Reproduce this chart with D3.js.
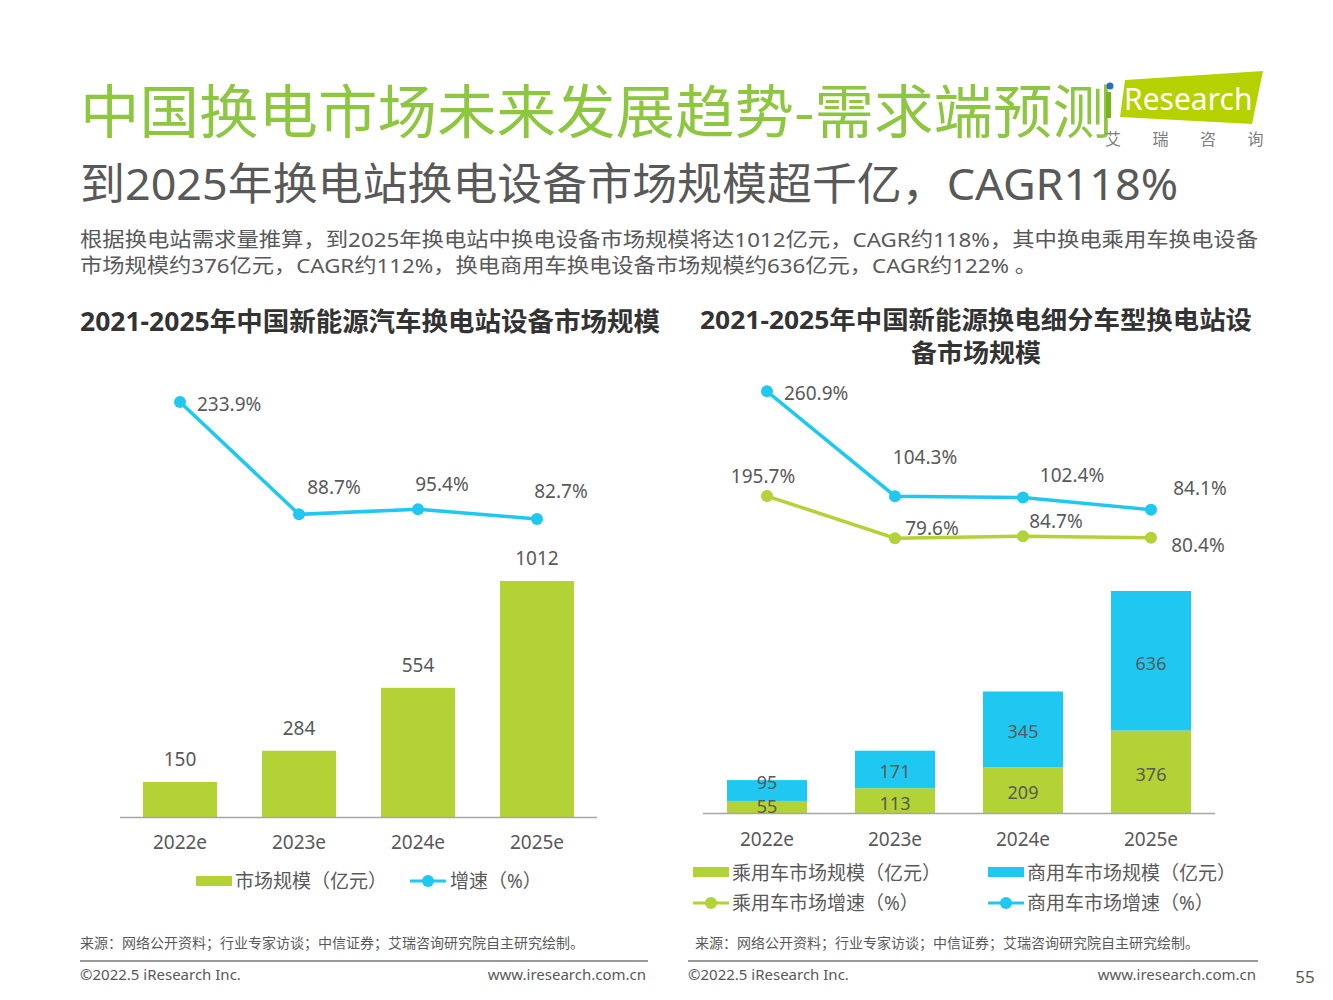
<!DOCTYPE html>
<html><head><meta charset="utf-8">
<script src="https://cdn.jsdelivr.net/npm/d3@7"></script>
<style>
html,body{margin:0;padding:0;background:#fff;}
svg{display:block;font-family:"Noto Sans","Noto Sans CJK SC",sans-serif;}
</style></head>
<body>
<script>
// ---------- data ----------
const years = ["2022e", "2023e", "2024e", "2025e"];
const totalMarket = [150, 284, 554, 1012];
const totalGrowth = [233.9, 88.7, 95.4, 82.7];
const passengerMarket = [55, 113, 209, 376];
const commercialMarket = [95, 171, 345, 636];
const passengerGrowth = [195.7, 79.6, 84.7, 80.4];
const commercialGrowth = [260.9, 104.3, 102.4, 84.1];

const mainTitle = "中国换电市场未来发展趋势-需求端预测";
const subTitle = "到2025年换电站换电设备市场规模超千亿，CAGR118%";
const para1 = "根据换电站需求量推算，到2025年换电站中换电设备市场规模将达1012亿元，CAGR约118%，其中换电乘用车换电设备";
const para2 = "市场规模约376亿元，CAGR约112%，换电商用车换电设备市场规模约636亿元，CAGR约122% 。";
const leftTitle = "2021-2025年中国新能源汽车换电站设备市场规模";
const rightTitle1 = "2021-2025年中国新能源换电细分车型换电站设";
const rightTitle2 = "备市场规模";
const sourceText = "来源：网络公开资料；行业专家访谈；中信证券；艾瑞咨询研究院自主研究绘制。";

// ---------- styles ----------
const GREEN = "#B2D235", BLUE = "#1FC8F0", TXT = "#595959", TITLEGREEN = "#8DC63F";

const svg = d3.select("body").append("svg").attr("width", 1333).attr("height", 1000);

// headers
svg.append("text").attr("x", 80).attr("y", 133).attr("fill", TITLEGREEN)
  .style("font-size", "58px").style("font-family", "'Noto Sans CJK SC'").text(mainTitle)
  .attr("textLength", 1032).attr("lengthAdjust", "spacingAndGlyphs");
svg.append("text").attr("x", 80).attr("y", 200).attr("fill", "#595959")
  .style("font-size", "44px").text(subTitle)
  .attr("textLength", 1098).attr("lengthAdjust", "spacingAndGlyphs");
svg.append("text").attr("x", 80).attr("y", 247).attr("fill", TXT).style("font-size", "20px").text(para1)
  .attr("textLength", 1178).attr("lengthAdjust", "spacingAndGlyphs");
svg.append("text").attr("x", 80).attr("y", 273).attr("fill", TXT).style("font-size", "20px").text(para2)
  .attr("textLength", 957).attr("lengthAdjust", "spacingAndGlyphs");

// logo
const logo = svg.append("g");
logo.append("polygon").attr("points", "1125,80 1263,71 1252,124 1120,117").attr("fill", "#B5D200");
logo.append("rect").attr("x", 1106).attr("y", 92).attr("width", 5).attr("height", 26).attr("fill", "#7BB31A");
logo.append("circle").attr("cx", 1110).attr("cy", 86).attr("r", 3.5).attr("fill", "#2A6EBB");
logo.append("text").attr("x", 1124).attr("y", 110).attr("fill", "#fff").style("font-size", "30px")
  .style("font-family", "'Noto Sans','Open Sans'").text("Research");
logo.selectAll("text.cn").data(["艾", "瑞", "咨", "询"]).enter().append("text")
  .attr("x", (d, i) => 1113 + i * 47.5).attr("y", 145).attr("text-anchor", "middle")
  .attr("fill", "#7f7f7f").style("font-size", "16px").text(d => d);

// chart titles
svg.append("text").attr("x", 80).attr("y", 331).attr("fill", "#333")
  .style("font-size", "26px").style("font-weight", "bold").text(leftTitle)
  .attr("textLength", 580).attr("lengthAdjust", "spacingAndGlyphs");
svg.append("text").attr("x", 700).attr("y", 329).attr("fill", "#333")
  .style("font-size", "25px").style("font-weight", "bold").text(rightTitle1)
  .attr("textLength", 552).attr("lengthAdjust", "spacingAndGlyphs");
svg.append("text").attr("x", 976).attr("y", 362).attr("text-anchor", "middle").attr("fill", "#333")
  .style("font-size", "25px").style("font-weight", "bold").text(rightTitle2)
  .attr("textLength", 130).attr("lengthAdjust", "spacingAndGlyphs");

// ---------- left chart ----------
const xL = d3.scaleBand().domain(years).range([143, 574]).paddingInner(0.378);
const yL = d3.scaleLinear().domain([0, 1012]).range([817, 581]);
const gL = d3.scaleLinear().domain([0, 300]).range([583, 350.8]);

const L = svg.append("g");
L.selectAll("rect.bar").data(years).enter().append("rect")
  .attr("x", d => xL(d)).attr("width", xL.bandwidth())
  .attr("y", (d, i) => yL(totalMarket[i])).attr("height", (d, i) => yL(0) - yL(totalMarket[i]))
  .attr("fill", GREEN);
L.append("line").attr("x1", 120).attr("x2", 597).attr("y1", 817.5).attr("y2", 817.5)
  .attr("stroke", "#a6a6a6").attr("stroke-width", 1.5);
L.selectAll("text.val").data(years).enter().append("text")
  .attr("x", d => xL(d) + xL.bandwidth() / 2).attr("y", (d, i) => yL(totalMarket[i]) - 16)
  .attr("text-anchor", "middle").attr("fill", TXT).style("font-size", "19px")
  .text((d, i) => totalMarket[i]);
L.selectAll("text.cat").data(years).enter().append("text")
  .attr("x", d => xL(d) + xL.bandwidth() / 2).attr("y", 849)
  .attr("text-anchor", "middle").attr("fill", TXT).style("font-size", "19px").text(d => d);

const cxL = d => xL(d) + xL.bandwidth() / 2;
L.append("path").datum(years).attr("fill", "none").attr("stroke", BLUE).attr("stroke-width", 3.5)
  .attr("d", d3.line().x(d => cxL(d)).y((d, i) => gL(totalGrowth[i])));
L.selectAll("circle").data(years).enter().append("circle")
  .attr("cx", d => cxL(d)).attr("cy", (d, i) => gL(totalGrowth[i])).attr("r", 6).attr("fill", BLUE);
const offL = [[17, 9, "start"], [35, -20, "middle"], [24, -18, "middle"], [24, -21, "middle"]];
L.selectAll("text.pct").data(years).enter().append("text")
  .attr("x", (d, i) => cxL(d) + offL[i][0]).attr("y", (d, i) => gL(totalGrowth[i]) + offL[i][1])
  .attr("text-anchor", (d, i) => offL[i][2]).attr("fill", TXT).style("font-size", "19px")
  .text((d, i) => totalGrowth[i].toFixed(1) + "%");

// left legend
L.append("rect").attr("x", 196).attr("y", 876).attr("width", 36).attr("height", 10).attr("fill", GREEN);
L.append("text").attr("x", 235).attr("y", 888).attr("fill", TXT).style("font-size", "19px").text("市场规模（亿元）");
L.append("line").attr("x1", 410).attr("x2", 446).attr("y1", 881).attr("y2", 881).attr("stroke", BLUE).attr("stroke-width", 3);
L.append("circle").attr("cx", 428).attr("cy", 881).attr("r", 6).attr("fill", BLUE);
L.append("text").attr("x", 450).attr("y", 888).attr("fill", TXT).style("font-size", "19px").text("增速（%）");

// ---------- right chart ----------
const xR = d3.scaleBand().domain(years).range([727, 1191]).paddingInner(0.375);
const yR = d3.scaleLinear().domain([0, 1012]).range([813, 591]);
const gB = d3.scaleLinear().domain([0, 300]).range([566, 365.1]);
const gG = d3.scaleLinear().domain([0, 200]).range([567, 494.5]);
const cxR = d => xR(d) + xR.bandwidth() / 2;

const R = svg.append("g");
R.selectAll("rect.p").data(years).enter().append("rect")
  .attr("x", d => xR(d)).attr("width", xR.bandwidth())
  .attr("y", (d, i) => yR(passengerMarket[i])).attr("height", (d, i) => yR(0) - yR(passengerMarket[i]))
  .attr("fill", GREEN);
R.selectAll("rect.c").data(years).enter().append("rect")
  .attr("x", d => xR(d)).attr("width", xR.bandwidth())
  .attr("y", (d, i) => yR(passengerMarket[i] + commercialMarket[i]))
  .attr("height", (d, i) => yR(passengerMarket[i]) - yR(passengerMarket[i] + commercialMarket[i]))
  .attr("fill", BLUE);
R.append("line").attr("x1", 703).attr("x2", 1215).attr("y1", 813.5).attr("y2", 813.5)
  .attr("stroke", "#a6a6a6").attr("stroke-width", 1.5);
R.selectAll("text.pv").data(years).enter().append("text")
  .attr("x", d => cxR(d)).attr("y", (d, i) => (yR(0) + yR(passengerMarket[i])) / 2 + 9 - (i === 0 ? 3 : 0))
  .attr("text-anchor", "middle").attr("fill", TXT).style("font-size", "18px").text((d, i) => passengerMarket[i]);
R.selectAll("text.cv").data(years).enter().append("text")
  .attr("x", d => cxR(d))
  .attr("y", (d, i) => (yR(passengerMarket[i]) + yR(passengerMarket[i] + commercialMarket[i])) / 2 + 9 - (i === 0 ? 11 : 0))
  .attr("text-anchor", "middle").attr("fill", TXT).style("font-size", "18px").text((d, i) => commercialMarket[i]);
R.selectAll("text.cat").data(years).enter().append("text")
  .attr("x", d => cxR(d)).attr("y", 846)
  .attr("text-anchor", "middle").attr("fill", TXT).style("font-size", "19px").text(d => d);

// lines
R.append("path").datum(years).attr("fill", "none").attr("stroke", GREEN).attr("stroke-width", 3.5)
  .attr("d", d3.line().x(d => cxR(d)).y((d, i) => gG(passengerGrowth[i])));
R.selectAll("circle.g").data(years).enter().append("circle")
  .attr("cx", d => cxR(d)).attr("cy", (d, i) => gG(passengerGrowth[i])).attr("r", 6).attr("fill", GREEN);
R.append("path").datum(years).attr("fill", "none").attr("stroke", BLUE).attr("stroke-width", 3.5)
  .attr("d", d3.line().x(d => cxR(d)).y((d, i) => gB(commercialGrowth[i])));
R.selectAll("circle.b").data(years).enter().append("circle")
  .attr("cx", d => cxR(d)).attr("cy", (d, i) => gB(commercialGrowth[i])).attr("r", 6).attr("fill", BLUE);

const offB = [[17, 9, "start"], [30, -32, "middle"], [49, -15, "middle"], [49, -15, "middle"]];
R.selectAll("text.bp").data(years).enter().append("text")
  .attr("x", (d, i) => cxR(d) + offB[i][0]).attr("y", (d, i) => gB(commercialGrowth[i]) + offB[i][1])
  .attr("text-anchor", (d, i) => offB[i][2]).attr("fill", TXT).style("font-size", "19px")
  .text((d, i) => commercialGrowth[i].toFixed(1) + "%");
const offG = [[-4, -13, "middle"], [37, -3, "middle"], [33, -8, "middle"], [47, 14, "middle"]];
R.selectAll("text.gp").data(years).enter().append("text")
  .attr("x", (d, i) => cxR(d) + offG[i][0]).attr("y", (d, i) => gG(passengerGrowth[i]) + offG[i][1])
  .attr("text-anchor", (d, i) => offG[i][2]).attr("fill", TXT).style("font-size", "19px")
  .text((d, i) => passengerGrowth[i].toFixed(1) + "%");

// right legend
R.append("rect").attr("x", 693).attr("y", 867).attr("width", 36).attr("height", 10).attr("fill", GREEN);
R.append("text").attr("x", 732).attr("y", 880).attr("fill", TXT).style("font-size", "19px").text("乘用车市场规模（亿元）");
R.append("rect").attr("x", 988).attr("y", 867).attr("width", 36).attr("height", 10).attr("fill", BLUE);
R.append("text").attr("x", 1027).attr("y", 880).attr("fill", TXT).style("font-size", "19px").text("商用车市场规模（亿元）");
R.append("line").attr("x1", 693).attr("x2", 729).attr("y1", 903).attr("y2", 903).attr("stroke", GREEN).attr("stroke-width", 3);
R.append("circle").attr("cx", 711).attr("cy", 903).attr("r", 6).attr("fill", GREEN);
R.append("text").attr("x", 732).attr("y", 910).attr("fill", TXT).style("font-size", "19px").text("乘用车市场增速（%）");
R.append("line").attr("x1", 988).attr("x2", 1024).attr("y1", 903).attr("y2", 903).attr("stroke", BLUE).attr("stroke-width", 3);
R.append("circle").attr("cx", 1006).attr("cy", 903).attr("r", 6).attr("fill", BLUE);
R.append("text").attr("x", 1027).attr("y", 910).attr("fill", TXT).style("font-size", "19px").text("商用车市场增速（%）");

// ---------- footers ----------
[[80, 648, 80, 646], [695, 1258, 688, 1256]].forEach(([sx, lx2, cx, wx], k) => {
  svg.append("text").attr("x", sx).attr("y", 948).attr("fill", TXT).style("font-size", "14px").text(sourceText);
  svg.append("line").attr("x1", k === 0 ? 80 : 688).attr("x2", lx2).attr("y1", 961).attr("y2", 961)
    .attr("stroke", "#999").attr("stroke-width", 2);
  svg.append("text").attr("x", cx).attr("y", 980).attr("fill", TXT).style("font-size", "15px").text("©2022.5 iResearch Inc.");
  svg.append("text").attr("x", wx).attr("y", 980).attr("text-anchor", "end").attr("fill", TXT).style("font-size", "15px").text("www.iresearch.com.cn");
});
svg.append("text").attr("x", 1305).attr("y", 983).attr("text-anchor", "middle").attr("fill", TXT).style("font-size", "17px").text("55");
</script>
</body></html>
